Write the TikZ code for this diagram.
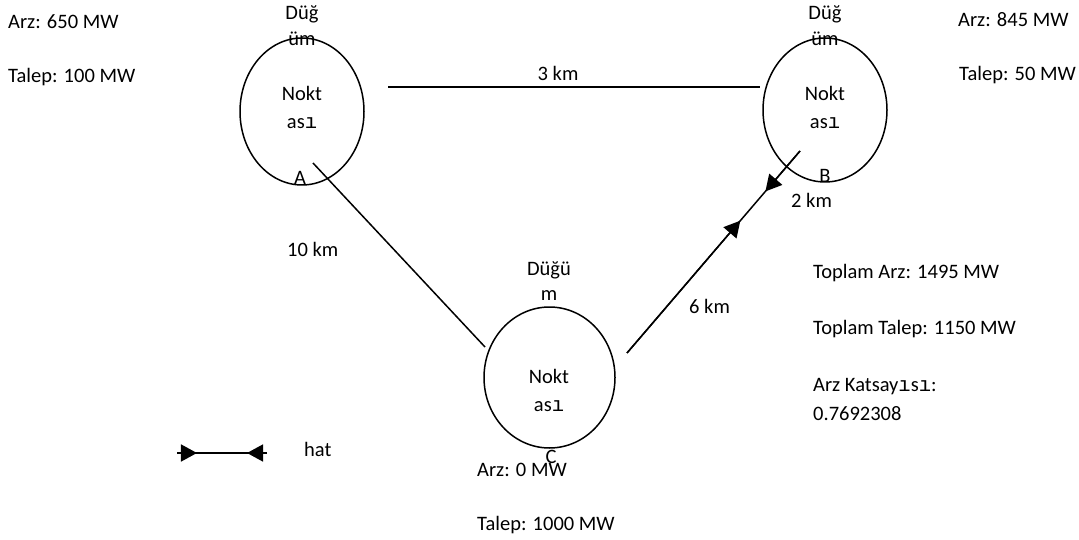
\documentclass[tikz,border=0pt]{standalone}
\usepackage{fontspec}
\setmainfont{Carlito}
\newfontfamily\dotlessfont{Liberation Mono}
\usetikzlibrary{shapes.geometric,arrows.meta,calc}
\newcommand{\dli}{{\dotlessfont ı}}
\begin{document}
\begin{tikzpicture}[x=1pt,y=-1pt,
  every node/.style={font=\fontsize{20.5}{24}\selectfont, inner sep=0pt},
  busnode/.style={draw, ellipse, line width=1.5pt, minimum width=#1},
  txt/.style={anchor=base west},
  ctxt/.style={anchor=base},
  wire/.style={line width=1.5pt},
  tip/.style={-{Triangle[length=16pt,width=17pt]}}]
  \useasboundingbox (0,0) rectangle (1079,540);

  % bus nodes
  \node[busnode=124pt, minimum height=147pt] (A) at (302,111.5) {};
  \node[busnode=124pt, minimum height=144pt] (B) at (825,110) {};
  \node[busnode=131pt, minimum height=141pt] (C) at (549.5,377.5) {};

  % labels of node A
  \node[ctxt] (a1) at (302,20) {Düğ};
  \node[ctxt] (a2) at (302,46) {üm};
  \node[ctxt] (a3) at (302,101) {Nokt};
  \node[ctxt] (a4) at (302,129) {as\dli};
  \node[ctxt] (a5) at (300,185) {A};

  % labels of node B
  \node[ctxt] (b1) at (825,20) {Düğ};
  \node[ctxt] (b2) at (825,46) {üm};
  \node[ctxt] (b3) at (825,101) {Nokt};
  \node[ctxt] (b4) at (825,129) {as\dli};
  \node[ctxt] (b5) at (825,183) {B};

  % labels of node C
  \node[ctxt] (c1) at (549,276) {Düğü};
  \node[ctxt] (c2) at (549,300) {m};
  \node[ctxt] (c3) at (549,383) {Nokt};
  \node[ctxt] (c4) at (549,411) {as\dli};
  \node[ctxt] (c5) at (551,463) {C};

  % line end points
  \coordinate (abS) at (388,87);
  \coordinate (abE) at (760,87);
  \coordinate (acS) at (313,163);
  \coordinate (acE) at (485,347);
  \coordinate (cbS) at (627,353);
  \coordinate (cbE) at (800,151);

  % lines between nodes
  \draw[wire] (abS) -- (abE);
  \draw[wire] (acS) -- (acE);
  \draw[wire] (cbS) -- (cbE);
  \draw[wire, tip] (cbS) -- ($(cbS)!0.655!(cbE)$);
  \draw[wire, tip] (cbE) -- ($(cbS)!0.80!(cbE)$);

  % line lengths
  \node[ctxt] (l3) at (558,81) {3 km};
  \node[txt] (l10) at (287,256) {10 km};
  \node[txt] (l6) at (689,313) {6 km};
  \node[txt] (l2) at (791,208) {2 km};

  % supply and demand per node
  \node[txt] (sa) at (8,29) {Arz: 650 MW};
  \node[txt] (da) at (8,83) {Talep: 100 MW};
  \node[txt] (sb) at (958,27) {Arz: 845 MW};
  \node[txt] (db) at (959,81) {Talep: 50 MW};
  \node[txt] (sc) at (477,476) {Arz: 0 MW};
  \node[txt] (dc) at (477,530) {Talep: 1000 MW};

  % totals
  \node[txt] (t1) at (813,278) {Toplam Arz: 1495 MW};
  \node[txt] (t2) at (813,334) {Toplam Talep: 1150 MW};
  \node[txt] (t3) at (813,391) {Arz Katsay\dli s\dli:};
  \node[txt] (t4) at (813,420) {0.7692308};

  % legend
  \coordinate (legL) at (177,453);
  \coordinate (legR) at (267,453);
  \draw[wire] (legL) -- (legR);
  \draw[wire, tip] (legL) -- ($(legL)!0.222!(legR)$);
  \draw[wire, tip] (legR) -- ($(legR)!0.222!(legL)$);
  \node[txt] (hat) at (304,456) {hat};
\end{tikzpicture}
\end{document}
